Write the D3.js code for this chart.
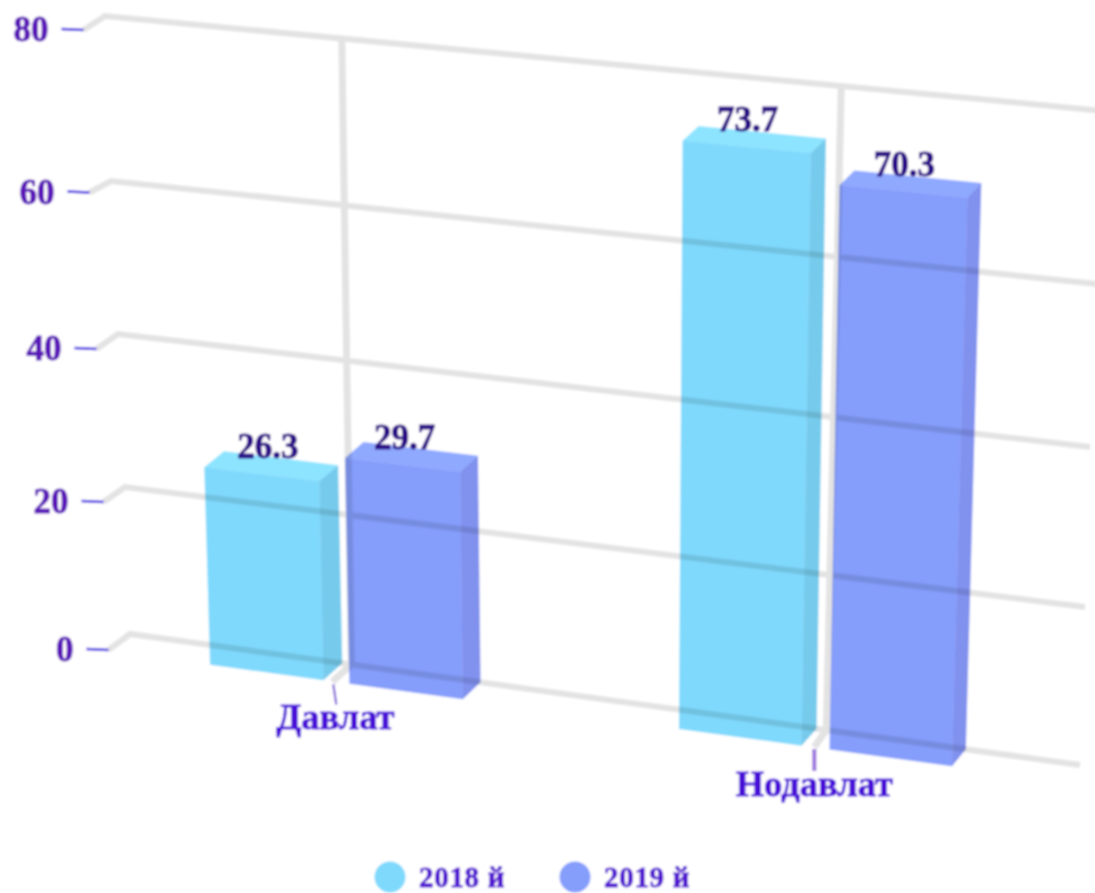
<!DOCTYPE html>
<html><head><meta charset="utf-8">
<script src="https://cdnjs.cloudflare.com/ajax/libs/d3/7.8.5/d3.min.js"></script>
<style>html,body{margin:0;padding:0;background:#fff}svg{display:block}text{font-family:"Liberation Serif",serif;font-weight:bold}</style>
</head><body><svg id="c" width="1095" height="893"></svg>
<script>
const categories = ["Давлат","Нодавлат"];
const seriesNames = ["2018 й","2019 й"];
const values2018 = [26.3,73.7];
const values2019 = [29.7,70.3];
const valueTicks = [0,20,40,60,80];

// perspective calibration of the back wall: where each tick's gridline starts and ends
const leftX  = d3.scaleLinear().domain(valueTicks).range([130,125,118,111,105]);
const leftY  = d3.scaleLinear().domain(valueTicks).range([634,487,334,181,16]);
const rightX = d3.scaleLinear().domain(valueTicks).range([1080,1085,1090,1097,1104]);
const rightY = d3.scaleLinear().domain(valueTicks).range([765,607,447,284,111]);
const stubDrop = d3.scaleOrdinal().domain(valueTicks).range([16,15,15,11.5,14]);
const wall = (u,v)=>[leftX(v)+u*(rightX(v)-leftX(v)), leftY(v)+u*(rightY(v)-leftY(v))];
const catScale = d3.scaleBand().domain(categories).range([-0.017,0.983]);
const seriesScale = d3.scaleBand().domain(seriesNames).range([-0.128,0.136]).paddingInner(0.186);
const depthX = d3.scaleLinear().domain([0.2,0.8]).range([-19,-14.5]);
const depthY = d3.scaleLinear().domain([0,80]).range([17,14.5]);
const labelNudgeX = [[6,2],[1,1]];
const colors = [
 {front:"#7fd9fc",top:"#8de4ff",side:"#76cbec"},
 {front:"#859dfb",top:"#8fa9ff",side:"#8091ee"}];
const GRID="#e3e3e3";

const svg=d3.select("#c");
const defs=svg.append("defs");
defs.append("filter").attr("id","soft").attr("x",0).attr("y",0).attr("width","100%").attr("height","100%")
  .append("feGaussianBlur").attr("stdDeviation",0.8);
const root=svg.append("g").attr("filter","url(#soft)");
root.append("rect").attr("width",1095).attr("height",893).attr("fill","#fff");
const line=d3.line();
const boldText=(sel,color,sw)=>sel.attr("fill",color).attr("stroke",color).attr("stroke-width",sw);

// horizontal gridlines with floor stubs, ticks, labels
valueTicks.forEach(v=>{
  const a=wall(0,v), b=wall(1,v);
  const end=[a[0]-21.5,a[1]+stubDrop(v)];
  root.append("path").attr("d",line([end,a,b])).attr("fill","none").attr("stroke",GRID).attr("stroke-width",6);
  root.append("line").attr("x1",end[0]-22).attr("x2",end[0]).attr("y1",end[1]-1).attr("y2",end[1])
    .attr("stroke","#3a22e0").attr("stroke-width",2.5);
  boldText(root.append("text").attr("x",end[0]-35).attr("y",end[1]+11).attr("text-anchor","end")
    .attr("font-size",35).text(v),"#5a14b8",0.9);
});
// vertical gridlines and category ticks/labels
categories.forEach((c,i)=>{
  const u=catScale(c)+catScale.bandwidth()/2;
  const top=wall(u+0.004,80), bot=wall(u,0);
  const dx=-22.3+14*u;
  const stub=[bot[0]+dx,bot[1]+17];
  root.append("path").attr("d",line([top,bot,stub])).attr("fill","none").attr("stroke",GRID).attr("stroke-width",7);
  root.append("line").attr("x1",stub[0]+ (i?0:1)).attr("y1",stub[1]+(i?2:3)).attr("x2",stub[0]+(i?0:4)).attr("y2",stub[1]+(i?24:23))
    .attr("stroke",i?"#9a72dc":"#6a3fd0").attr("stroke-width",i?4:2);
  boldText(root.append("text").attr("x",stub[0]+(i?0:3)).attr("y",stub[1]+(i?49:47)).attr("text-anchor","middle")
    .attr("font-size",36.5).text(c),"#4a10d8",0.9);
});

// bars
const series=[values2018,values2019];
const face=(pts,fill)=>root.append("path").attr("d",line(pts)+"Z").attr("fill",fill).style("mix-blend-mode","multiply");
const labels=[];
categories.forEach((c,ci)=>{
  const uC=catScale(c)+catScale.bandwidth()/2;
  const spread=1+0.16*(uC-0.233);
  seriesNames.forEach((s,si)=>{
    const val=series[si][ci];
    const u0=uC+seriesScale(s)*spread, u1=uC+(seriesScale(s)+seriesScale.bandwidth())*spread;
    const F=(u,v)=>{const p=wall(u,v);return [p[0]+depthX(u),p[1]+depthY(v)];};
    const col=colors[si];
    face([F(u0,0),F(u1,0),F(u1,val),F(u0,val)],col.front);
    face([F(u0,val),F(u1,val),wall(u1,val),wall(u0,val)],col.top);
    face([F(u1,0),wall(u1,0),wall(u1,val),F(u1,val)],col.side);
    const f1=F(u0,val), f2=F(u1,val);
    labels.push({x:(f1[0]+f2[0])/2+labelNudgeX[ci][si],y:(f1[1]+f2[1])/2-16,t:val.toFixed(1)});
  });
});
labels.forEach(l=>boldText(root.append("text").attr("x",l.x).attr("y",l.y).attr("text-anchor","middle")
  .attr("font-size",35).text(l.t),"#2c0a86",0.9));

// legend
const legendX=d3.scalePoint().domain(seriesNames).range([390,575]);
seriesNames.forEach((s,i)=>{
  root.append("circle").attr("cx",legendX(s)).attr("cy",877).attr("r",15.5).attr("fill",colors[i].front);
  boldText(root.append("text").attr("x",legendX(s)+29).attr("y",886.5).attr("font-size",29)
    .attr("letter-spacing",0.7).text(s),"#4f10d0",0.8);
});
</script></body></html>
